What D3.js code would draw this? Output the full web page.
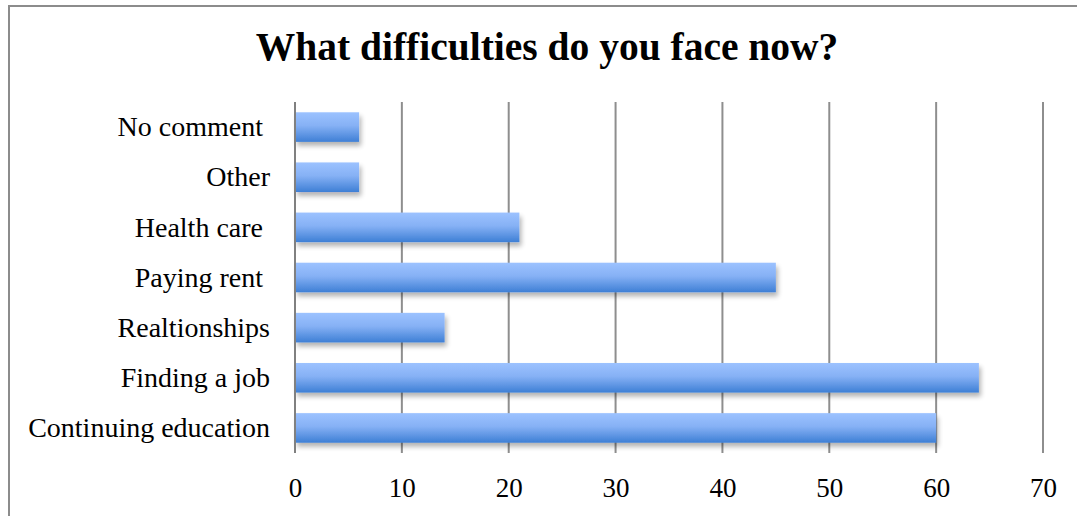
<!DOCTYPE html>
<html>
<head>
<meta charset="utf-8">
<script src="https://cdn.jsdelivr.net/npm/d3@7"></script>
<style>
  html, body { margin: 0; padding: 0; background: #fff; }
  svg text { white-space: pre; }
</style>
</head>
<body>
<script>
// Survey answers, listed top to bottom
const categories = ["No comment ", "Other", "Health care ", "Paying rent ", "Realtionships", "Finding a job", "Continuing education"];
const values = [6, 6, 21, 45, 14, 64, 60];
const tickValues = [0, 10, 20, 30, 40, 50, 60, 70];
const title = "What difficulties do you face now?";

const W = 1077, H = 516;
const plot = { left: 295, right: 1043, top: 102, bottom: 453 };
const font = "'Liberation Serif', 'DejaVu Serif', serif";

const svg = d3.select("body").append("svg")
  .attr("width", W).attr("height", H);

const defs = svg.append("defs");
const grad = defs.append("linearGradient")
  .attr("id", "barFill").attr("x1", 0).attr("y1", 0).attr("x2", 0).attr("y2", 1);
grad.append("stop").attr("offset", "0%").attr("stop-color", "#9cc2ff");
grad.append("stop").attr("offset", "45%").attr("stop-color", "#86b1f5");
grad.append("stop").attr("offset", "100%").attr("stop-color", "#3e7fd5");

const shadow = defs.append("filter").attr("id", "barShadow")
  .attr("x", "-10%").attr("y", "-30%").attr("width", "130%").attr("height", "180%");
shadow.append("feGaussianBlur").attr("in", "SourceAlpha").attr("stdDeviation", 2.5).attr("result", "b");
shadow.append("feOffset").attr("in", "b").attr("dx", 2).attr("dy", 4).attr("result", "o");
shadow.append("feComponentTransfer").attr("in", "o").attr("result", "s")
  .append("feFuncA").attr("type", "linear").attr("slope", 0.3);
const merge = shadow.append("feMerge");
merge.append("feMergeNode").attr("in", "s");
merge.append("feMergeNode").attr("in", "SourceGraphic");

// Chart frame
svg.append("rect")
  .attr("x", 9).attr("y", 6).attr("width", W + 10).attr("height", H + 10)
  .attr("fill", "none").attr("stroke", "#8c8c8c").attr("stroke-width", 2);

const x = d3.scaleLinear().domain([0, 70]).range([plot.left, plot.right]);
const y = d3.scaleBand().domain(categories).range([plot.top, plot.bottom]).paddingInner(0.41).paddingOuter(0.205);

// Vertical gridlines
svg.append("g").selectAll("line").data(tickValues.slice(1)).join("line")
  .attr("x1", d => x(d)).attr("x2", d => x(d))
  .attr("y1", plot.top).attr("y2", plot.bottom)
  .attr("stroke", "#8e8e8e").attr("stroke-width", 2);

// Bars
svg.append("g").selectAll("rect").data(values).join("rect")
  .attr("x", x(0))
  .attr("y", (d, i) => y(categories[i]))
  .attr("width", d => x(d) - x(0))
  .attr("height", y.bandwidth())
  .attr("fill", "url(#barFill)")
  .attr("filter", "url(#barShadow)");

// Value axis line at zero
svg.append("line")
  .attr("x1", x(0)).attr("x2", x(0))
  .attr("y1", plot.top).attr("y2", plot.bottom)
  .attr("stroke", "#808080").attr("stroke-width", 2);

// Bottom tick labels
const xAxis = d3.axisBottom(x).tickValues(tickValues).tickSize(0).tickPadding(0);
const gx = svg.append("g").attr("transform", `translate(0,497)`).call(xAxis);
gx.select(".domain").remove();
gx.selectAll("text").attr("font-family", font).attr("font-size", 27).attr("fill", "#000")
  .attr("y", 0).attr("dy", 0);

// Category labels
const yAxis = d3.axisLeft(y).tickSize(0).tickPadding(0);
const gy = svg.append("g").attr("transform", `translate(270,0)`).call(yAxis);
gy.select(".domain").remove();
gy.selectAll("text").attr("font-family", font).attr("font-size", 28).attr("fill", "#000")
  .attr("dy", "0.33em");

// Title
svg.append("text")
  .attr("x", 547).attr("y", 60)
  .attr("text-anchor", "middle")
  .attr("font-family", font).attr("font-weight", "bold").attr("font-size", 39.5)
  .attr("fill", "#000")
  .text(title);
</script>
</body>
</html>
